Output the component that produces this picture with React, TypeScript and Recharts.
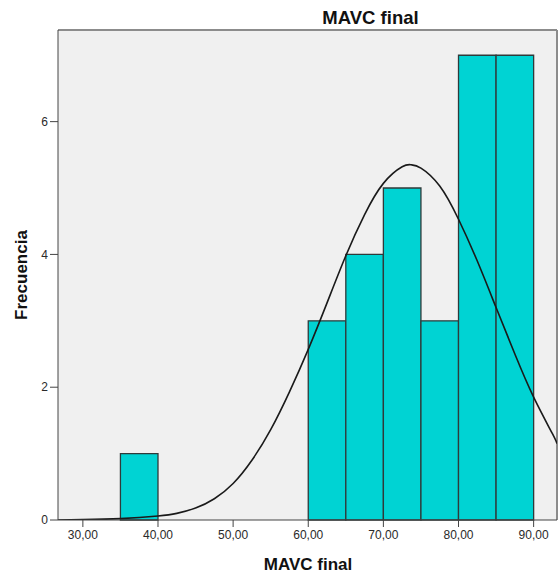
import React from "react";
import {
  ComposedChart,
  Line,
  XAxis,
  YAxis,
  ReferenceArea,
  ReferenceLine,
  CartesianGrid,
} from "recharts";

// Histogram bins (MAVC final)
const binStart = [35, 60, 65, 70, 75, 80, 85];
const binEnd = [40, 65, 70, 75, 80, 85, 90];
const binCount = [1, 3, 4, 5, 3, 7, 7];

// Normal curve
const curveX = [26.69, 30, 35, 40, 42.5, 45, 47.5, 50, 52.5, 55, 57.5, 60, 62.5, 65, 67.5, 70, 72.5, 73.7, 75, 77.5, 80, 82.5, 85, 87.5, 90, 92.5, 93.11];
const curveY = [0.0, 0.005, 0.02, 0.06, 0.1, 0.18, 0.32, 0.55, 0.9, 1.36, 1.93, 2.57, 3.27, 3.98, 4.6, 5.07, 5.32, 5.35, 5.3, 5.03, 4.53, 3.9, 3.2, 2.5, 1.85, 1.3, 1.15];

const xTicks = [30, 40, 50, 60, 70, 80, 90];
const yTicks = [0, 2, 4, 6];

const X_MIN = 26.69;
const X_MAX = 93.11;
const Y_MAX = 7.38;

const curveData = curveX.map((x, i) => ({ x, y: curveY[i] }));

const FONT = "'Liberation Sans', Arial, sans-serif";

const fmt = (v: number) => v.toFixed(2).replace(".", ",");

export default function App() {
  return (
    <div style={{ position: "absolute", left: 0, top: 0, width: 558, height: 576, background: "#fff", fontFamily: FONT }}>
      <ComposedChart
        width={558}
        height={576}
        data={curveData}
        margin={{ top: 30, right: 1, bottom: 0, left: 0 }}
      >
        <CartesianGrid fill="#f0f0f0" horizontal={false} vertical={false} />
        <XAxis
          dataKey="x"
          type="number"
          domain={[X_MIN, X_MAX]}
          allowDataOverflow
          ticks={xTicks}
          tickFormatter={fmt}
          height={56}
          tickSize={7}
          tickMargin={3}
          stroke="#444"
          tick={{ fill: "#2a2a2a", fontSize: 12, fontFamily: FONT }}
          interval={0}
        />
        <YAxis
          type="number"
          domain={[0, Y_MAX]}
          allowDataOverflow
          ticks={yTicks}
          width={58}
          tickSize={8}
          tickMargin={2}
          stroke="#444"
          tick={{ fill: "#2a2a2a", fontSize: 12, fontFamily: FONT }}
          interval={0}
        />
        <ReferenceLine y={Y_MAX} stroke="#8c8c8c" strokeWidth={2} />
        <ReferenceLine x={X_MAX} stroke="#8c8c8c" strokeWidth={2} />
        {binStart.map((s, i) => (
          <ReferenceArea
            key={i}
            x1={s}
            x2={binEnd[i]}
            y1={0}
            y2={binCount[i]}
            fill="#00d3d3"
            fillOpacity={1}
            stroke="#2f3a3a"
            strokeWidth={1.3}
          />
        ))}
        <Line
          dataKey="y"
          type="natural"
          stroke="#1a1a1a"
          strokeWidth={1.6}
          dot={false}
          isAnimationActive={false}
        />
      </ComposedChart>
      <div
        style={{
          position: "absolute",
          left: 370.5,
          top: 9,
          transform: "translateX(-50%)",
          fontSize: 18.5,
          lineHeight: 1,
          fontWeight: "bold",
          whiteSpace: "nowrap",
          color: "#111",
        }}
      >
        MAVC final
      </div>
      <div
        style={{
          position: "absolute",
          left: 308,
          top: 556,
          transform: "translateX(-50%)",
          fontSize: 17,
          lineHeight: 1,
          fontWeight: "bold",
          whiteSpace: "nowrap",
          color: "#111",
        }}
      >
        MAVC final
      </div>
      <div
        style={{
          position: "absolute",
          left: 21,
          top: 275,
          transform: "translate(-50%, -50%) rotate(-90deg)",
          fontSize: 17,
          lineHeight: 1,
          fontWeight: "bold",
          whiteSpace: "nowrap",
          color: "#111",
        }}
      >
        Frecuencia
      </div>
    </div>
  );
}
